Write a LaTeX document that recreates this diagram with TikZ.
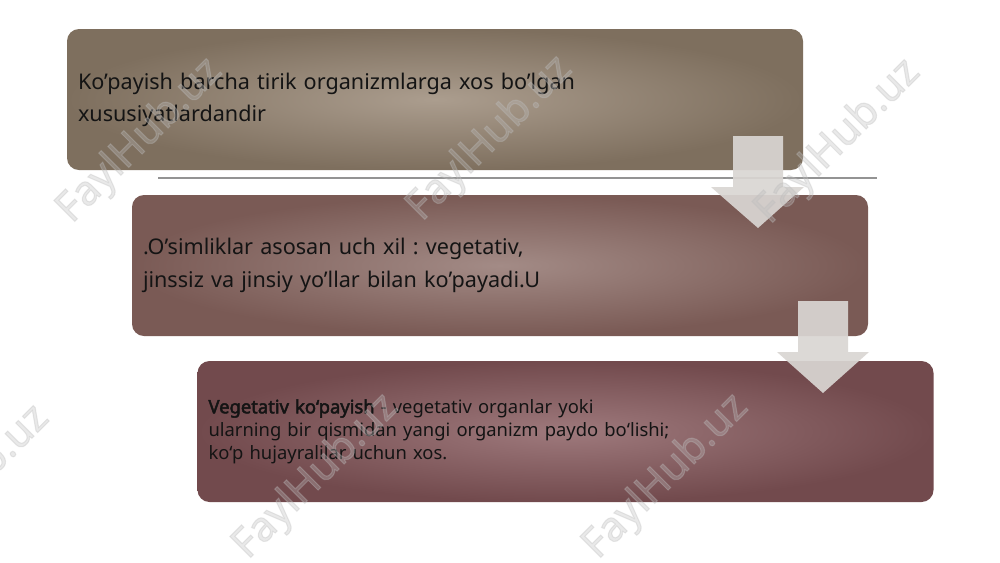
\documentclass[tikz,border=0pt]{standalone}
\usepackage{fontspec}
\setmainfont{Noto Sans}[BoldFont={Noto Sans}, BoldFeatures={FakeBold=2.5}]
\definecolor{boxonein}{HTML}{AB9D8E}
\definecolor{boxoneout}{HTML}{7E6F5E}
\definecolor{boxtwoin}{HTML}{A38B86}
\definecolor{boxtwoout}{HTML}{7A5A55}
\definecolor{boxthreein}{HTML}{9E797C}
\definecolor{boxthreeout}{HTML}{724A4D}
\definecolor{arrowgray}{HTML}{DAD6D3}
\definecolor{textdark}{HTML}{141414}
\definecolor{wmgray}{HTML}{BDBDBD}
\tikzset{
  stepbox/.style={rounded corners=9pt, shading=radial, minimum width=552pt,
    minimum height=105.75pt, text width=535.5pt, inner xsep=8.25pt, inner ysep=0pt,
    align=left, text=textdark, anchor=center},
  downarrow/.style={fill=arrowgray, fill opacity=0.92, draw=none},
  sepline/.style={draw=gray!85, line width=1.1pt},
  wm/.style={text=wmgray, text opacity=0.33, font=\fontsize{31}{33}\selectfont\bfseries, rotate=45}
}
\begin{document}
\frenchspacing
\begin{tikzpicture}[x=0.75pt,y=-0.75pt]
\useasboundingbox (0,0) rectangle (1000,562);
\fill[white] (0,0) rectangle (1000,562);
\node[stepbox, inner color=boxonein, outer color=boxoneout, font=\fontsize{16.2}{24}\selectfont\frenchspacing] (b1) at (435,99.5)
  {Ko’payish barcha tirik organizmlarga xos bo’lgan\\xususiyatlardandir};
\draw[sepline] (158,178) coordinate (l1) -- (877,178) coordinate (l2);
\node[stepbox, inner color=boxtwoin, outer color=boxtwoout, font=\fontsize{16.2}{24.75}\selectfont\frenchspacing] (b2) at (500,265.5)
  {.O’simliklar asosan uch xil : vegetativ,\\jinssiz va jinsiy yo’llar bilan ko’payadi.U};
\node[stepbox, inner color=boxthreein, outer color=boxthreeout, font=\fontsize{13.8}{17.25}\selectfont\frenchspacing] (b3) at (565.5,431.5)
  {\textbf{Vegetativ ko‘payish} - vegetativ organlar yoki\\ularning bir qismidan yangi organizm paydo bo‘lishi;\\ko‘p hujayralilar uchun xos.};
\path[downarrow] (733,136) -- (783,136) -- (783,187) -- (804,187) -- (758,228) -- (711,187) -- (733,187) -- cycle;
\path[downarrow] (798,301) -- (848,301) -- (848,352) -- (869,352) -- (823,393) -- (777,352) -- (798,352) -- cycle;
\node[wm] (w1) at (140,141) {FaylHub.uz};
\node[wm] (w2) at (490,139) {FaylHub.uz};
\node[wm] (w3) at (838,142) {FaylHub.uz};
\node[wm] (w4) at (-33,488) {FaylHub.uz};
\node[wm] (w5) at (316,477) {FaylHub.uz};
\node[wm] (w6) at (666,477) {FaylHub.uz};
\end{tikzpicture}
\end{document}
